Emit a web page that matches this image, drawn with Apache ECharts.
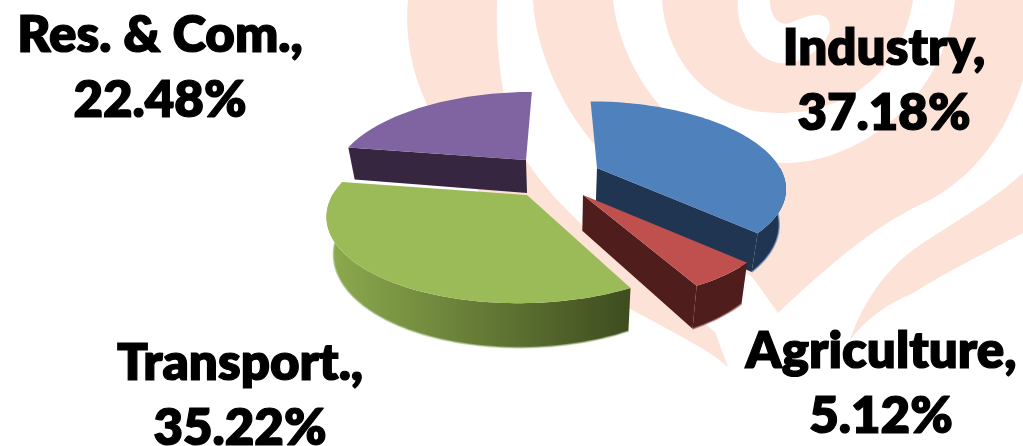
<!DOCTYPE html>
<html>
<head>
<meta charset="utf-8">
<style>html,body{margin:0;padding:0;background:#fff}#c{width:1023px;height:446px;filter:blur(0.6px)}</style>
<script src="https://cdn.jsdelivr.net/npm/echarts@6/dist/echarts.min.js"></script>
</head>
<body>
<div id="c"></div>
<script>
const categories = ['Industry', 'Agriculture', 'Transport.', 'Res. & Com.'];
const shares = [37.18, 5.12, 35.22, 22.48];

// Styles and layout, per slice
const topColors = ['#4F81BD', '#C0504D', '#9BBB59', '#8064A2'];
const sideStops = [
  ['#1F3552', '#1F3552'],
  ['#4F1D1B', '#4F1D1B'],
  ['#8DAB4E', '#3E4C1F'],
  ['#362640', '#362640']
];
const fringe = ['rgba(120,150,190,.7)', 'rgba(170,120,120,.7)', 'rgba(170,190,140,.7)', 'rgba(120,110,140,0)'];
const paintOrder = [1, 3, 2, 0];
const apexes = [[597, 168], [583, 195], [527, 195], [526, 160]];
const radii = [183, 190, 194.5, 187];
const cutFace = ['end', 'end', null, 'start'];
const labelPos = [[884, 81], [881, 384], [240, 396], [160, 68]];
const PERSP = 0.209, VX = 560, YRATIO = 0.44;

const peach = '#FDE2D8';
const swirlPaths = [
  'M408 0 L497 0 C495 60 505 125 528 163 C575 235 680 300 715 332 L728 367 C700 340 600 300 500 230 L450 140 C420 105 403 50 408 0 Z',
  'M533 0 L613 0 C618 50 650 110 700 140 C730 158 760 163 790 163 C860 160 945 100 955 0 L1023 0 L1023 80 C1005 135 975 175 930 200 C890 218 850 245 778 313 L753 278 C700 235 640 190 600 150 C565 115 535 50 533 0 Z',
  'M662 0 C665 50 700 113 780 113 C840 113 900 80 913 0 L770 0 C770 20 782 26 790 23 C800 19 812 14 820 15 C828 16 832 24 829 33 C822 50 800 65 780 63 C755 60 735 30 738 0 Z',
  'M1023 173 C985 207 940 230 913 250 C880 275 860 310 850 340 C865 320 885 305 913 293 C950 270 990 250 1023 233 Z'
];

function project(i, deg) {
  const t = deg * Math.PI / 180, X = Math.sin(t), Y = Math.cos(t);
  const w = 1 + PERSP * Y, R = radii[i], a = apexes[i];
  return [a[0] + R * X / w + (a[0] - VX) * (1 / w - 1),
          a[1] - R * YRATIO * Y / w];
}
function drop(p) {
  return [p[0] + (VX - p[0]) * 0.03, p[1] + 33 + (p[1] - 160) * 0.08];
}
const startAngles = [];
shares.reduce((acc, v, i) => { startAngles[i] = acc; return acc + v * 3.6; }, 0);

function renderSlice(params, api) {
  const i = params.dataIndex, value = api.value(0);
  const from = startAngles[i], to = from + value * 3.6;
  const arc = [];
  for (let d = from; d <= to + 1e-6; d += 1.5) arc.push(project(i, d));
  arc.push(project(i, to));
  const bottom = arc.map(drop);
  const a = apexes[i], aB = drop(a);
  const xs = arc.map(p => p[0]);
  const minX = Math.min.apply(null, xs), maxX = Math.max.apply(null, xs);
  const sideFill = {
    type: 'linear', global: true, x: minX, y: 0, x2: maxX, y2: 0,
    colorStops: [{ offset: 0, color: sideStops[i][0] }, { offset: 1, color: sideStops[i][1] }]
  };
  const z = paintOrder[i] * 2;
  const children = [];
  // outer wall only where it faces the viewer (lower half of the rim)
  const front = [];
  for (let k = 0; k < arc.length; k++) {
    if (arc[k][1] >= a[1] - 2) front.push(k);
  }
  if (front.length > 1) {
    const tp = front.map(k => arc[k]), bt = front.map(k => bottom[k]);
    children.push({
      type: 'polygon', z2: z,
      shape: { points: tp.concat(bt.slice().reverse()) },
      style: { fill: sideFill }
    });
    children.push({
      type: 'polyline', z2: z,
      shape: { points: bt },
      style: { fill: 'none', stroke: fringe[i], lineWidth: 1.6 }
    });
  }
  if (cutFace[i]) {
    const p = cutFace[i] === 'end' ? arc[arc.length - 1] : arc[0];
    children.push({
      type: 'polygon', z2: z,
      shape: { points: [a, p, drop(p), aB] },
      style: { fill: sideStops[i][1] }
    });
  }
  children.push({
    type: 'polygon', z2: z + 1,
    shape: { points: [a].concat(arc) },
    style: { fill: topColors[i] }
  });
  children.push({
    type: 'text', z2: 30,
    x: labelPos[i][0], y: labelPos[i][1],
    style: {
      text: categories[i] + ',\n' + value.toFixed(2) + '%',
      fill: '#000', stroke: '#000', lineWidth: 1.2,
      font: '800 51px Lato, "Open Sans", sans-serif',
      lineHeight: 65, align: 'center', verticalAlign: 'middle'
    }
  });
  return { type: 'group', children };
}

const chart = echarts.init(document.getElementById('c'), null, { renderer: 'canvas' });
chart.setOption({
  animation: false,
  backgroundColor: '#fff',
  series: [{
    type: 'custom',
    coordinateSystem: 'none',
    z: 1,
    silent: true,
    renderItem: (params) => ({
      type: 'path',
      shape: { pathData: swirlPaths[params.dataIndex] },
      style: { fill: peach }
    }),
    data: swirlPaths.map((d, i) => [i])
  }, {
    type: 'custom',
    coordinateSystem: 'none',
    z: 2,
    renderItem: renderSlice,
    data: shares.map((v, i) => ({ name: categories[i], value: [v] })),
    silent: true
  }]
});
</script>
</body>
</html>
